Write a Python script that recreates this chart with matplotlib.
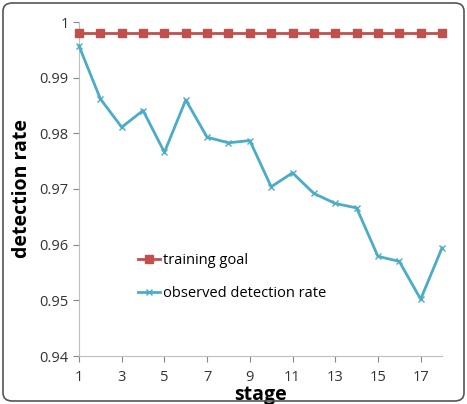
import matplotlib
matplotlib.use("Agg")
import matplotlib.pyplot as plt
from matplotlib.patches import FancyBboxPatch

# data
stages = list(range(1, 19))
training_goal = [0.998] * 18
observed = [0.9957, 0.9862, 0.9811, 0.9841, 0.9766, 0.9860, 0.9793, 0.9783, 0.9787,
            0.9704, 0.9729, 0.9692, 0.9674, 0.9666, 0.9579, 0.9570, 0.9502, 0.9594]
xticks = [1, 3, 5, 7, 9, 11, 13, 15, 17]
yticks = [0.94, 0.95, 0.96, 0.97, 0.98, 0.99, 1]
ytick_labels = ["0.94", "0.95", "0.96", "0.97", "0.98", "0.99", "1"]

plt.rcParams["font.family"] = ["Open Sans", "DejaVu Sans"]

W, H = 467, 404
fig = plt.figure(figsize=(W / 100, H / 100), dpi=100)
ax = fig.add_axes([79 / W, 1 - 356 / H, (442 - 79) / W, (356 - 22) / H])

ax.plot(stages, training_goal, color="#C0504D", lw=2, marker="s", ms=5.5,
        label="training goal", clip_on=False, zorder=3)
ax.plot(stages, observed, color="#4BACC6", lw=2, marker="x", ms=5, mew=1,
        label="observed detection rate", clip_on=False, zorder=3)

ax.set_xlim(1, 18)
ax.set_ylim(0.94, 1.0)
ax.set_xticks(xticks)
ax.set_yticks(yticks)
ax.set_yticklabels(ytick_labels)
ax.tick_params(labelsize=10.5, colors="#868686", labelcolor="#333333", length=4)
ax.tick_params(axis="x", pad=6)
for s in ["top", "right"]:
    ax.spines[s].set_visible(False)
for s in ["left", "bottom"]:
    ax.spines[s].set_color("#BFBFBF")

ax.set_xlabel("stage", fontsize=14, fontweight="bold", labelpad=0)
ax.set_ylabel("detection rate", fontsize=14, fontweight="bold", labelpad=5)

leg = ax.legend(loc="upper left", bbox_to_anchor=(125 / W, 1 - 240 / H),
                bbox_transform=fig.transFigure, frameon=False, fontsize=10.5,
                labelspacing=1.2, handlelength=1.5, handletextpad=0.2)

fig.patches.append(FancyBboxPatch((3 / W, 3 / H), (W - 6) / W, (H - 6) / H,
                                  boxstyle="round,pad=0,rounding_size=0.02",
                                  transform=fig.transFigure, fill=False,
                                  edgecolor="#555555", lw=1.2))

fig.savefig("out.png", dpi=100)
